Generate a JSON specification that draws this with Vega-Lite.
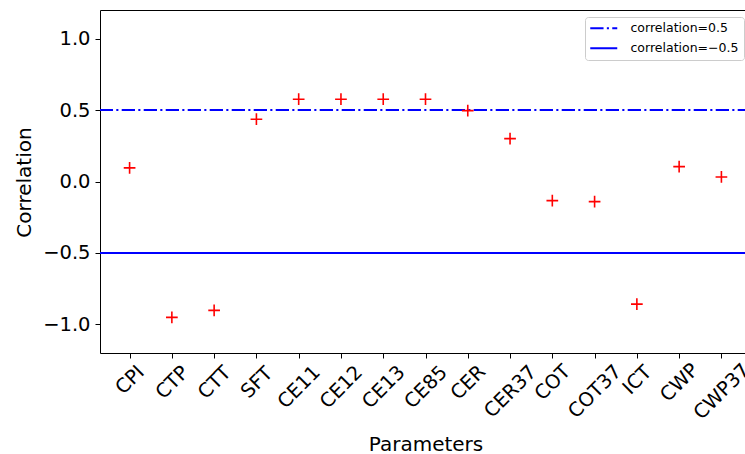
{
  "$schema": "https://vega.github.io/schema/vega-lite/v6.json",
  "autosize": {"type": "none"},
  "width": 651,
  "height": 343,
  "padding": {"left": 100, "top": 10, "right": -6, "bottom": 101},
  "background": "white",
  "config": {
    "font": "DejaVu Sans",
    "view": {"stroke": "#000000", "strokeWidth": 1},
    "axis": {"grid": false, "domain": false, "tickColor": "#000000", "tickSize": 5, "tickWidth": 1, "labelColor": "#000000", "titleColor": "#000000", "labelFont": "DejaVu Sans", "titleFont": "DejaVu Sans", "titleFontWeight": "normal"}
  },
  "datasets": {
    "pts": [
      {"param": "CPI", "corr": 0.095},
      {"param": "CTP", "corr": -0.951},
      {"param": "CTT", "corr": -0.902},
      {"param": "SFT", "corr": 0.436},
      {"param": "CE11", "corr": 0.576},
      {"param": "CE12", "corr": 0.576},
      {"param": "CE13", "corr": 0.576},
      {"param": "CE85", "corr": 0.576},
      {"param": "CER", "corr": 0.496},
      {"param": "CER37", "corr": 0.300},
      {"param": "COT", "corr": -0.134},
      {"param": "COT37", "corr": -0.141},
      {"param": "ICT", "corr": -0.858},
      {"param": "CWP", "corr": 0.104},
      {"param": "CWP37", "corr": 0.032}
    ],
    "lines": [
      {"label": "correlation=0.5", "value": 0.5},
      {"label": "correlation=−0.5", "value": -0.5}
    ]
  },
  "layer": [
    {
      "data": {"name": "lines"},
      "mark": {"type": "rule", "color": "#0000ff", "strokeWidth": 2},
      "encoding": {
        "y": {"field": "value", "type": "quantitative", "scale": {"domain": [-1.2, 1.2], "nice": false, "zero": false}, "title": "Correlation",
          "axis": {"values": [-1, -0.5, 0, 0.5, 1], "labelExpr": "replace(format(datum.value, '.1f'), '-', '−')", "labelFontSize": 19.5, "labelPadding": 5, "titleFontSize": 20, "titleAngle": -90, "titleBaseline": "alphabetic", "titleAlign": "center", "titleX": -69.5, "titleY": 172}},
        "strokeDash": {"field": "label", "type": "nominal", "sort": null,
          "scale": {"domain": ["correlation=0.5", "correlation=−0.5"], "range": [[13.3, 3.3, 2.1, 3.3], [1, 0]]},
          "legend": {"title": null, "orient": "top-right", "offset": 7, "symbolType": "M-1.2,0L4.2,0", "symbolSize": 100, "symbolStrokeWidth": 2, "symbolStrokeColor": "#0000ff", "symbolFillColor": "transparent", "labelFontSize": 12.5, "labelFont": "DejaVu Sans", "labelColor": "#000000", "labelOffset": 28, "rowPadding": 7, "padding": 5, "fillColor": "rgba(255,255,255,0.8)", "strokeColor": "#cccccc", "cornerRadius": 3}}
      }
    },
    {
      "data": {"name": "pts"},
      "mark": {"type": "point", "shape": "M-1,0L1,0M0,-1L0,1", "size": 137, "filled": false, "stroke": "#ff0000", "strokeWidth": 1.6, "opacity": 1},
      "encoding": {
        "x": {"field": "param", "type": "nominal", "sort": null, "scale": {"type": "point", "padding": 0.7}, "title": "Parameters",
          "axis": {"labelAngle": -45, "labelAlign": "center", "labelBaseline": "middle", "labelFontSize": 19.5, "labelOverlap": false, "labelBound": false, "labelFlush": false, "titleFontSize": 20, "titleBaseline": "alphabetic", "titleY": 97,
            "labelPadding": {"expr": "10.5 + 6.9*(0.66*length(datum.label) - 0.37*(length(datum.label) - length(replace(datum.label, 'I', ''))))"}}},
        "y": {"field": "corr", "type": "quantitative", "scale": {"domain": [-1.2, 1.2], "nice": false, "zero": false}, "title": "Correlation",
          "axis": {"values": [-1, -0.5, 0, 0.5, 1], "labelExpr": "replace(format(datum.value, '.1f'), '-', '−')", "labelFontSize": 19.5, "labelPadding": 5, "titleFontSize": 20, "titleAngle": -90, "titleBaseline": "alphabetic", "titleAlign": "center", "titleX": -69.5, "titleY": 172}}
      }
    }
  ]
}
